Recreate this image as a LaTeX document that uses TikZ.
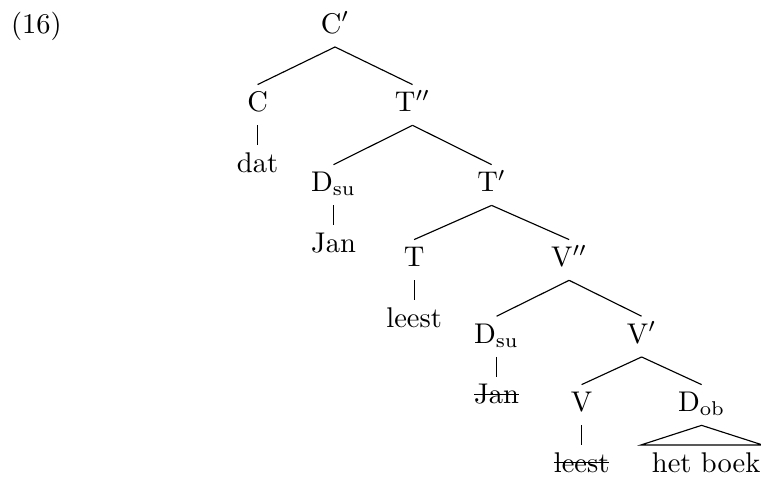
\documentclass[tikz,border=0pt]{standalone}
\usepackage{amsmath}
\usepackage{tikz}
\usetikzlibrary{trees}
\newcommand{\strikeword}[1]{\setbox0\hbox{#1}\rlap{\rule[0.7ex]{\wd0}{0.4pt}}\box0}
\tikzset{
	synnode/.style={text height=6.7pt, text depth=2pt, inner sep=2.6pt},
	unary/.style={level distance=21.2pt},
	roof/.style={edge from parent path={(\tikzparentnode.south) -- ([xshift=-3.1pt]\tikzchildnode.north west) -- (\tikzchildnode.north east) -- cycle}},
}
\begin{document}
\begin{tikzpicture}[
			level 1/.style={sibling distance=54.4pt, level distance=27.5pt},
			level 2/.style={sibling distance=55.5pt, level distance=28.1pt},
			level 3/.style={sibling distance=54.4pt, level distance=26.3pt},
			level 4/.style={sibling distance=50.9pt, level distance=26.9pt},
			level 5/.style={sibling distance=42.1pt, level distance=24pt},
			edge from parent path={(\tikzparentnode.south) -- (\tikzchildnode.north)},
			every node/.style={synnode}]
			\useasboundingbox (-117.6pt,9.34pt) rectangle (149.5pt,-158.8pt);
			\node[anchor=base west, inner sep=0pt] (exnum) at (-113.9pt,-2.35pt) {(16)};
			\node (cbar) {C$'$}
				child {node (c) {C}
					child[unary] {node (dat) {dat}}}
				child {node (tbarbar) {T$''$}
					child {node (dsu) {D$_{\mathrm{su}}$}
						child[unary] {node (jan) {Jan}}}
					child {node (tbar) {T$'$}
						child {node (t) {T}
							child[unary] {node (leest) {leest}}}
						child {node (vbarbar) {V$''$}
							child {node (dsulow) {D$_{\mathrm{su}}$}
								child[unary] {node (janlow) {\strikeword{Jan}}}}
							child {node (vbar) {V$'$}
								child {node (v) {V}
									child[unary] {node (leestlow) {\strikeword{leest}}}}
								child {node (dob) {D$_{\mathrm{ob}}$}
									child[unary, roof] {node[xshift=1.6pt, inner xsep=0.6pt] (hetboek) {het boek}}}}}}};
		\end{tikzpicture}
\end{document}
